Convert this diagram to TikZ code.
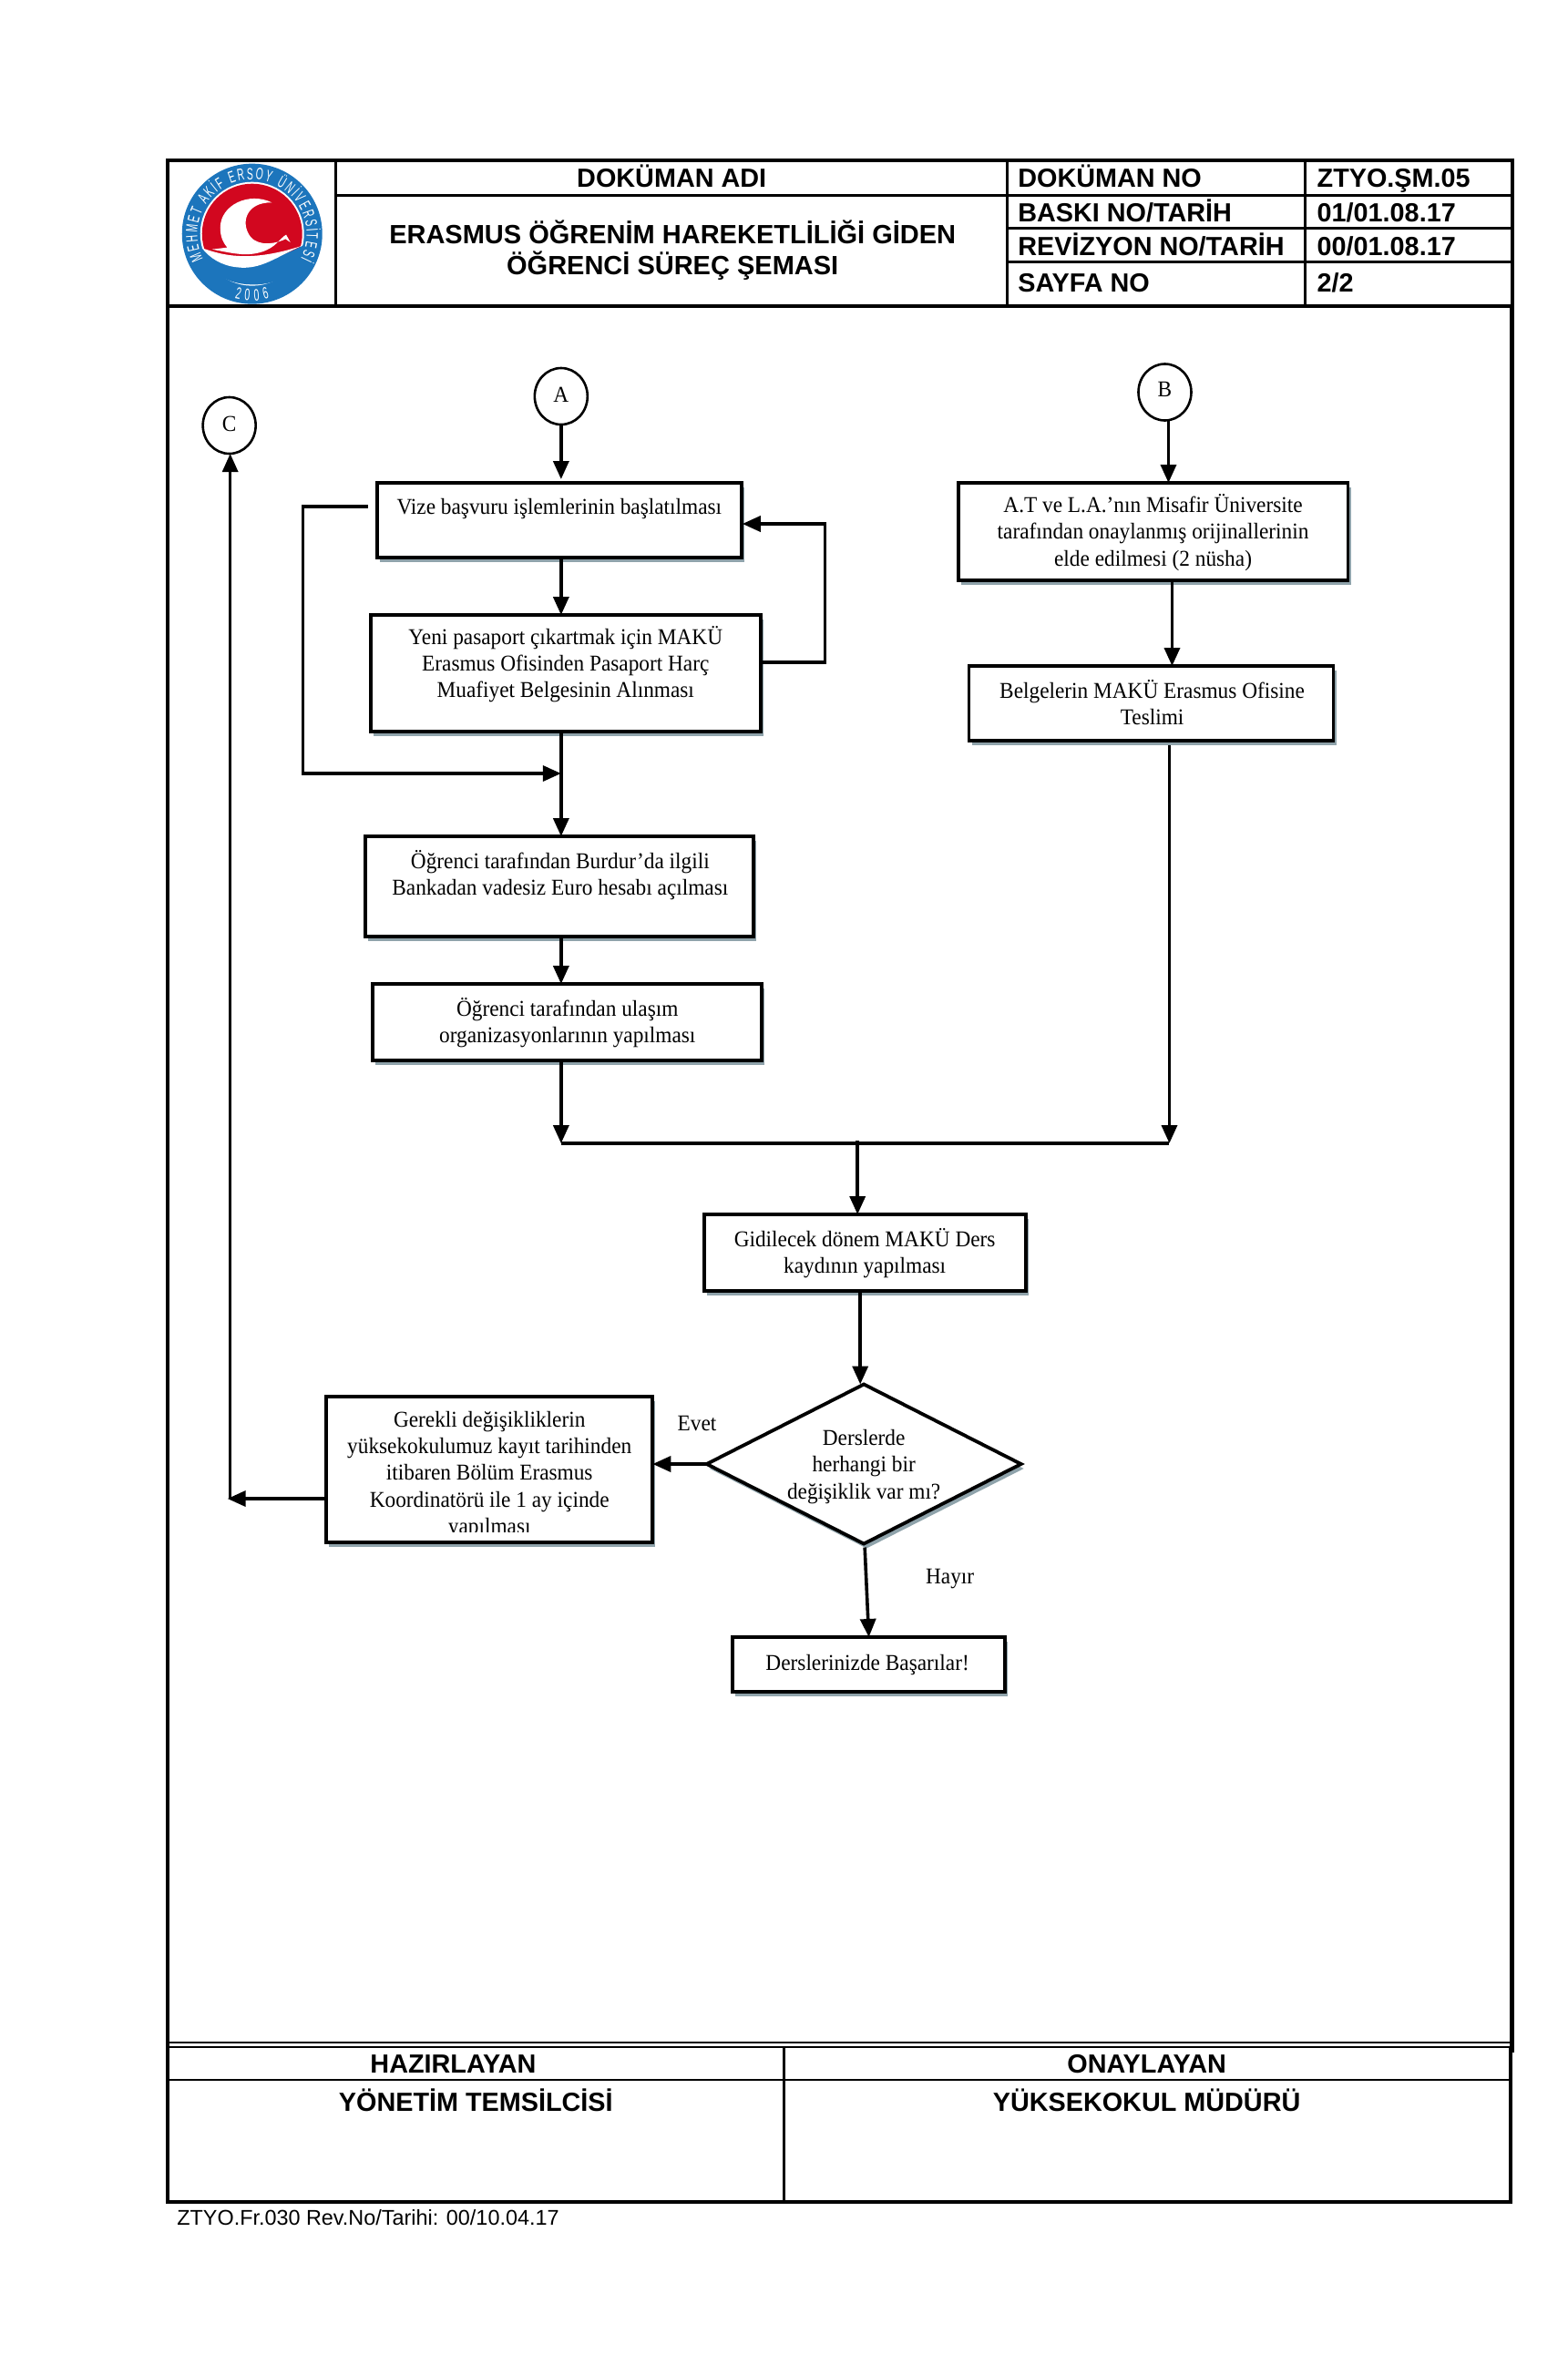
\documentclass[tikz,border=0pt]{standalone}
\usepackage{fontspec}
\setmainfont[FakeStretch=0.94]{Liberation Serif}
\newfontfamily\hdr{Liberation Sans}
\newfontfamily\logofont[FakeStretch=0.58]{Liberation Sans}
\usetikzlibrary{arrows.meta,calc,shapes.geometric,shadows,fit,decorations.text}
\definecolor{shadowc}{HTML}{8FA3AB}
\definecolor{logoblue}{HTML}{1C75BC}
\definecolor{logored}{HTML}{D2071F}
\tikzset{
  flowshadow/.style={general shadow={shadow xshift=1.5pt,shadow yshift=-2.5pt,fill=shadowc}},
  boxnode/.style={draw=black,fill=white,line width=1.9pt,inner sep=0pt,outer sep=0pt,flowshadow},
  ftext/.style={font=\fontsize{12.4}{14.6}\selectfont,align=center,inner sep=0pt,outer sep=0pt},
  conncirc/.style={draw=black,fill=white,line width=1.3pt,ellipse,inner sep=0pt,outer sep=0pt,minimum width=29pt,minimum height=31pt,font=\fontsize{12.4}{14}\selectfont},
  arr/.style={draw=black,line width=1.8pt,-{Triangle[length=10pt,width=8.5pt]}},
  thinline/.style={draw=black,line width=1.5pt},
  frameline/.style={draw=black,line width=2pt},
  hb/.style={font=\hdr\bfseries\fontsize{14.4}{16}\selectfont,inner sep=0pt,outer sep=0pt,anchor=base},
  hbl/.style={hb,anchor=base west},
}
\newcommand{\flowbox}[8]{%
  \node[boxnode,fit={(#2,#3)(#4,#5)}] (#1) {};
  \node[ftext] (#1-t) at (#6,#7) {#8};
}
\begin{document}
\begin{tikzpicture}[x=0.4975pt,y=-0.5pt]
\useasboundingbox (0pt,0pt) rectangle (860pt,-1292.5pt);
\begin{scope}[xshift=0.46pt]

% ---------- header table
\draw[frameline] (184,176) rectangle (1667,336);
\draw[thinline] (369,176) -- (369,336);
\draw[thinline] (1110,176) -- (1110,336);
\draw[thinline] (1439,176) -- (1439,336);
\draw[thinline] (369,214) -- (1667,214);
\draw[thinline] (1110,250) -- (1667,250);
\draw[thinline] (1110,287) -- (1667,287);

% ---------- logo
\begin{scope}[shift={(170,165)},x=0.16667pt,y=-0.16667pt]
  \fill[logoblue] (320,275) circle [radius=231];
  \fill[white] (320,275) circle [radius=171];
  \fill[logored] (320,275) circle [radius=165];
  \fill[logoblue] (150,322) .. controls (230,345) and (330,400) .. (490,312)
    .. controls (500,380) and (420,445) .. (320,442) .. controls (230,442) and (160,390) .. (150,322) -- cycle;
  \fill[white] (155,322) .. controls (210,340) and (300,375) .. (485,314)
    .. controls (400,350) and (350,395) .. (270,385) .. controls (220,380) and (180,355) .. (155,322) -- cycle;
  \fill[white] (385,172) .. controls (310,135) and (215,180) .. (215,255)
    .. controls (215,285) and (225,305) .. (238,320) -- (188,326)
    .. controls (260,340) and (300,350) .. (350,335)
    .. controls (400,320) and (410,290) .. (432,278)
    -- (446,303) -- (430,292) .. controls (405,305) and (345,320) .. (315,285)
    .. controls (280,240) and (300,170) .. (385,172) -- cycle;
\end{scope}
\begin{scope}[shift={(277,257)},x=0.5pt,y=0.5pt]
  \path[decorate,decoration={text along path,text align={fit to path},
    text={|\logofont\fontsize{9}{10}\selectfont\color{white}|MEHMET AKİF ERSOY ÜNİVERSİTESİ}}]
    (207:60) arc [start angle=207,end angle=-27,radius=60];
  \path[decorate,decoration={text along path,text align={fit to path},
    text={|\logofont\fontsize{9}{10}\selectfont\color{white}|2006}}]
    (255:73) arc [start angle=255,end angle=285,radius=73];
\end{scope}

% ---------- header text
\node[hb] (docname) at (740,205) {DOKÜMAN ADI};
\node[font=\hdr\bfseries\fontsize{14.5}{17}\selectfont,align=center,inner sep=0pt,outer sep=0pt] (title) at (741,275) {ERASMUS ÖĞRENİM HAREKETLİLİĞİ GİDEN\\ÖĞRENCİ SÜREÇ ŞEMASI};
\node[hbl] (h1) at (1122,205) {DOKÜMAN NO};
\node[hbl] (h2) at (1122,243) {BASKI NO/TARİH};
\node[hbl] (h3) at (1122,280.5) {REVİZYON NO/TARİH};
\node[hbl] (h4) at (1122,320.5) {SAYFA NO};
\node[hbl] (v1) at (1452,205) {ZTYO.ŞM.05};
\node[hbl] (v2) at (1452,243) {01/01.08.17};
\node[hbl] (v3) at (1452,280.5) {00/01.08.17};
\node[hbl] (v4) at (1452,320.5) {2/2};

% ---------- side frame
\draw[draw=black,line width=2.4pt] (184,338) -- (184,2253);
\draw[draw=black,line width=2.4pt] (1667,338) -- (1667,2253);

% ---------- connectors' free points
\coordinate (j1) at (618,1255);
\coordinate (j2) at (1289,1255);
\coordinate (jm) at (945,1255);
\coordinate (js) at (945,1252);
\coordinate (l0) at (405,556);
\coordinate (l1) at (333,556);
\coordinate (l2) at (333,849);
\coordinate (lm) at (618,849);
\coordinate (r0) at (839,727);
\coordinate (r1) at (909,727);
\coordinate (r2) at (909,575);
\coordinate (r3) at (818,575);
\coordinate (c0) at (359,1645);
\coordinate (c1) at (253,1645);
\coordinate (c2) at (250,1645);
\coordinate (bx) at (1288,0);
\coordinate (ax) at (1292,0);
\coordinate (gx) at (948,0);

% ---------- connector circles
\node[conncirc] (A) at (618,435) {\raisebox{1.5pt}{A}};
\node[conncirc] (B) at (1284,430.5) {\raisebox{3pt}{B}};
\node[conncirc] (C) at (252,467) {\raisebox{2pt}{C}};

% ---------- flow boxes
\flowbox{vize}{415}{530}{817}{612}{616}{559}{Vize başvuru işlemlerinin başlatılması}
\flowbox{yeni}{408}{675}{838}{803}{623}{729}{Yeni pasaport çıkartmak için MAKÜ\\Erasmus Ofisinden Pasaport Harç\\Muafiyet Belgesinin Alınması}
\flowbox{bank}{402}{918}{830}{1028}{617}{960.5}{Öğrenci tarafından Burdur’da ilgili\\Bankadan vadesiz Euro hesabı açılması}
\flowbox{ula}{410}{1080}{839}{1164}{625}{1122.5}{Öğrenci tarafından ulaşım\\organizasyonlarının yapılması}
\flowbox{at}{1056}{530}{1486}{637}{1271}{584.5}{A.T ve L.A.’nın Misafir Üniversite\\tarafından onaylanmış orijinallerinin\\elde edilmesi (2 nüsha)}
\flowbox{bel}{1068}{731}{1470}{813}{1270}{771}{Belgelerin MAKÜ Erasmus Ofisine\\Teslimi}
\flowbox{gid}{776}{1333}{1131}{1417}{953}{1376}{Gidilecek dönem MAKÜ Ders\\kaydının yapılması}
\flowbox{ger}{359}{1533}{719}{1693}{539}{1619}{Gerekli değişikliklerin\\yüksekokulumuz kayıt tarihinden\\itibaren Bölüm Erasmus\\Koordinatörü ile 1 ay içinde\\yapılması}
\fill[white] (365,1682) rectangle (714,1690);
\flowbox{bas}{807}{1797}{1108}{1857}{956}{1828}{Derslerinizde Başarılar!}

% ---------- decision
\node[boxnode,diamond,aspect=1.97,minimum width=172.5pt,minimum height=87.5pt] (dec) at (952,1607) {};
\node[ftext] (dec-t) at (952,1610) {Derslerde\\herhangi bir\\değişiklik var mı?};

% ---------- edge labels
\node[ftext] (evet) at (768,1562) {Evet};
\node[ftext] (hayir) at (1047,1733) {Hayır};

% ---------- connectors
\draw[arr,shorten >=2pt] (A.south) -- (A.south |- vize.north);
\draw[arr] (vize.south -| A) -- (yeni.north -| A);
\draw[arr] (yeni.south -| A) -- (bank.north -| A);
\draw[arr] (bank.south -| A) -- (ula.north -| A);
\draw[arr] (ula.south -| A) -- (j1);
\draw[line width=1.7pt] (j1) -- (j2);
\draw[arr] (B.south -| bx) -- (at.north -| bx);
\draw[arr] (at.south -| ax) -- (bel.north -| ax);
\draw[arr] ($(bel.south -| j2)+(0,5)$) -- (j2);
\draw[arr] (js) -- (gid.north -| jm);
\draw[arr] (gid.south -| gx) -- (dec.north -| gx);
\draw[arr] (dec.west) -- (ger.east |- dec.west);
\draw[arr] ($(dec.south)+(1,4)$) -- (bas.north);
\draw[arr,line width=1.7pt] (l0) -- (l1) -- (l2) -- (lm);
\draw[arr,line width=1.8pt] (r0) -- (r1) -- (r2) -- (r3);
\draw[arr] (c0) -- (c2);
\draw[arr,line width=1.6pt] (c1) -- (c1 |- C.south);

% ---------- bottom table
\draw[draw=black,line width=1pt] (184,2242) -- (1667,2242);
\draw[draw=black,line width=1pt] (184,2246.5) -- (1665,2246.5);
\draw[frameline] (184,2246) -- (184,2417) -- (1665,2417) -- (1665,2246);
\draw[thinline,line width=0.9pt] (184,2283) -- (1665,2283);
\draw[thinline] (864,2247) -- (864,2417);
\node[hb] (hz) at (499,2275) {HAZIRLAYAN};
\node[hb] (on) at (1264,2275) {ONAYLAYAN};
\node[hb] (yt) at (524,2317) {YÖNETİM TEMSİLCİSİ};
\node[hb] (ym) at (1264,2317) {YÜKSEKOKUL MÜDÜRÜ};
\node[anchor=west,inner sep=0pt,font=\hdr\fontsize{11.7}{14}\selectfont] (foot) at (194,2434) {ZTYO.Fr.030 Rev.No/Tarihi: 00/10.04.17};
\end{scope}
\end{tikzpicture}
\end{document}
